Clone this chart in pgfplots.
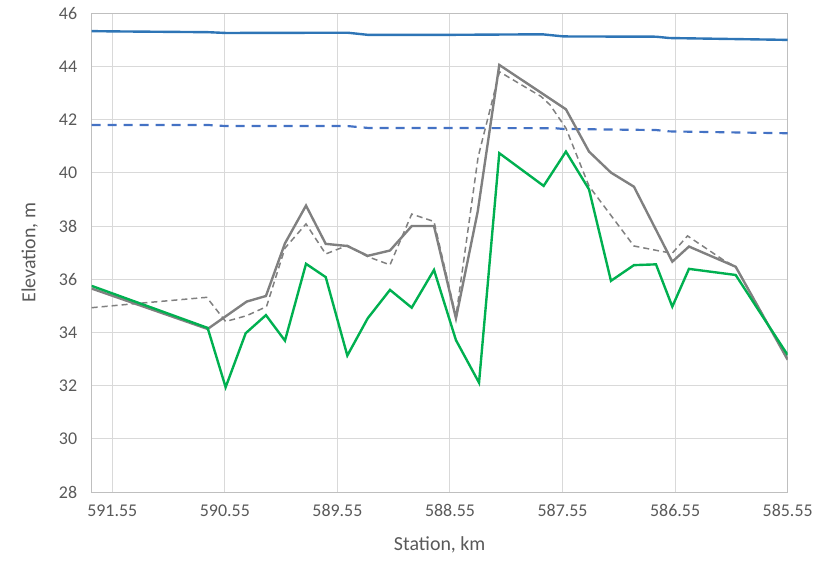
\documentclass[border=0pt]{standalone}
\usepackage{pgfplots}
\pgfplotsset{compat=1.18}
\usepackage{fontspec}
\setmainfont{Carlito}
\definecolor{txt}{HTML}{595959}
\definecolor{gridc}{HTML}{D9D9D9}
\definecolor{framec}{HTML}{BFBFBF}
\definecolor{wsblue}{HTML}{2E75B6}
\definecolor{dblue}{HTML}{4472C4}
\definecolor{grn}{HTML}{00B050}
\definecolor{gry}{HTML}{808080}
\begin{document}
\begin{tikzpicture}
\path[use as bounding box] (0,0) rectangle (820bp,569bp);
\begin{axis}[
  at={(91.7bp,77bp)}, anchor=south west,
  scale only axis, width=696bp, height=478.7bp,
  x dir=reverse,
  xmin=585.55, xmax=591.733,
  ymin=28, ymax=46,
  xtick={591.55,590.55,589.55,588.55,587.55,586.55,585.55},
  xticklabels={591.55,590.55,589.55,588.55,587.55,586.55,585.55},
  ytick={28,30,32,34,36,38,40,42,44,46},
  /pgf/number format/assume math mode=true,
  major tick length=0pt,
  grid=major,
  major grid style={gridc, line width=1pt},
  axis line style={framec, line width=1pt},
  tick label style={font=\fontsize{18}{20}\selectfont, text=txt},
  xticklabel style={yshift=-9bp},
  yticklabel style={xshift=-11bp},
  xlabel={Station, km},
  ylabel={Elevation, m},
  every axis x label/.style={at={(axis description cs:0.5,0)}, yshift=-53bp, anchor=center, font=\fontsize{20}{22}\selectfont, text=txt},
  every axis y label/.style={at={(axis description cs:0,0.5)}, xshift=-62bp, rotate=90, anchor=center, font=\fontsize{20}{22}\selectfont, text=txt},
  clip=true,
]
% water surface (solid blue)
\addplot[wsblue, line width=2.4pt] coordinates {
(591.733,45.33) (591.55,45.32) (590.70,45.29) (590.54,45.26) (589.46,45.27) (589.28,45.19)
(588.55,45.19) (587.73,45.21) (587.54,45.13) (586.72,45.12) (586.60,45.07) (585.55,45.00)};
% dashed blue
\addplot[dblue, line width=2.2pt, dash pattern=on 9bp off 7bp] coordinates {
(591.733,41.80) (590.70,41.80) (590.54,41.76) (589.46,41.76) (589.28,41.69)
(587.62,41.68) (587.54,41.65) (586.72,41.61) (586.60,41.56) (585.55,41.49)};
% dashed grey profile
\addplot[gry, line width=1.5pt, dash pattern=on 6bp off 4bp] coordinates {
(591.733,34.93) (591.378,35.07) (590.711,35.32) (590.543,34.41) (590.356,34.63)
(590.18,34.97) (590.016,37.17) (589.829,38.08) (589.654,36.95) (589.462,37.27)
(589.281,36.85) (589.083,36.54) (588.890,38.45) (588.692,38.17) (588.497,34.60)
(588.30,40.60) (588.11,43.80) (587.74,42.87) (587.66,42.55) (587.52,41.68)
(587.315,39.50) (586.916,37.25) (586.66,37.04) (586.575,36.98) (586.44,37.63)
(586.12,36.72) (586.012,36.47) (585.55,33.00)};
% solid grey profile
\addplot[gry, line width=2.4pt] coordinates {
(591.733,35.65) (590.703,34.13) (590.356,35.16) (590.185,35.37) (590.016,37.35)
(589.829,38.77) (589.654,37.33) (589.462,37.25) (589.281,36.88) (589.083,37.08)
(588.890,38.00) (588.692,38.00) (588.497,34.53) (588.304,38.54) (588.112,44.06)
(587.520,42.39) (587.315,40.80) (587.120,40.01) (586.916,39.48) (586.575,36.66)
(586.427,37.23) (586.012,36.47) (585.55,32.97)};
% green profile
\addplot[grn, line width=2.4pt] coordinates {
(591.733,35.75) (590.703,34.17) (590.543,31.94) (590.365,33.97) (590.185,34.65)
(590.016,33.69) (589.829,36.58) (589.654,36.08) (589.462,33.13) (589.281,34.53)
(589.083,35.60) (588.890,34.93) (588.692,36.35) (588.497,33.71) (588.292,32.11)
(588.112,40.74) (587.718,39.51) (587.520,40.80) (587.315,39.38) (587.120,35.94)
(586.916,36.53) (586.720,36.56) (586.575,34.97) (586.427,36.39) (586.012,36.16)
(585.55,33.15)};
\end{axis}
\end{tikzpicture}
\end{document}
